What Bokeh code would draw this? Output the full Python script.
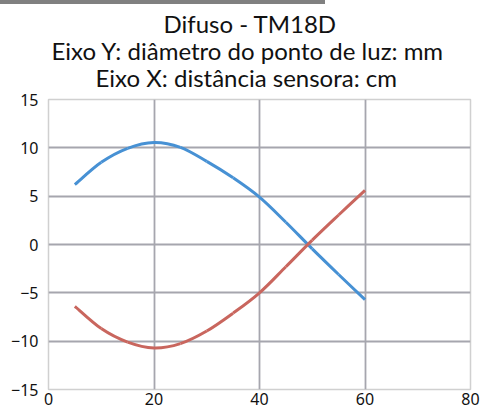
from bokeh.plotting import figure
from bokeh.models import FixedTicker, Grid, Title, ColumnDataSource, Div
from bokeh.layouts import column
from bokeh.embed import file_html
from bokeh.resources import INLINE

# Data
x_vals = [5, 10, 15, 20, 25, 30, 35, 40, 45, 50, 55, 60]
blue_vals = [6.2, 8.5, 9.95, 10.55, 10.05, 8.6, 6.9, 4.9, 2.3, -0.45, -3.1, -5.7]
red_vals = [-6.4, -8.7, -10.1, -10.7, -10.25, -8.95, -7.1, -5.0, -2.3, 0.45, 3.05, 5.6]
x_ticks = [0, 20, 40, 60, 80]
y_ticks = [-15, -10, -5, 0, 5, 10, 15]
title_lines = ["Difuso - TM18D",
               "Eixo Y: diâmetro do ponto de luz: mm",
               "Eixo X: distância sensora: cm"]


def smooth_segments(xs, ys):
    """Bezier segments through the data points (Excel-like smoothing)."""
    n = len(xs)
    out = dict(x0=[], y0=[], x1=[], y1=[], cx0=[], cy0=[], cx1=[], cy1=[])
    for i in range(n - 1):
        xm, ym = (xs[i - 1], ys[i - 1]) if i > 0 else (xs[i], ys[i])
        xp, yp = (xs[i + 2], ys[i + 2]) if i + 2 < n else (xs[i + 1], ys[i + 1])
        out["x0"].append(xs[i]); out["y0"].append(ys[i])
        out["x1"].append(xs[i + 1]); out["y1"].append(ys[i + 1])
        out["cx0"].append(xs[i] + (xs[i + 1] - xm) / 6)
        out["cy0"].append(ys[i] + (ys[i + 1] - ym) / 6)
        out["cx1"].append(xs[i + 1] - (xp - xs[i]) / 6)
        out["cy1"].append(ys[i + 1] - (yp - ys[i]) / 6)
    return out


W, H = 480, 404
p = figure(width=W, height=H, output_backend="svg", toolbar_location=None,
           x_range=(0, 80), y_range=(-15, 15),
           min_border_left=48, min_border_right=10, min_border_top=95,
           min_border_bottom=19, margin=0)
p.background_fill_color = "white"
p.border_fill_color = "white"
p.outline_line_color = "#D0D0D0"
p.outline_line_width = 1.5

# grids
p.xgrid.visible = False
p.ygrid.visible = False
p.add_layout(Grid(dimension=0, ticker=FixedTicker(ticks=x_ticks[1:]),
                  grid_line_color="#A6A6AE", grid_line_width=1.8))
p.add_layout(Grid(dimension=1, ticker=FixedTicker(ticks=y_ticks[1:-1]),
                  grid_line_color="#A6A6AE", grid_line_width=1.8))

for ax in (p.xaxis[0], p.yaxis[0]):
    ax.axis_line_color = None
    ax.major_tick_line_color = None
    ax.minor_tick_line_color = None
    ax.major_tick_out = 0
    ax.major_tick_in = 0
    ax.major_label_text_font = "Noto Sans"
    ax.major_label_text_font_size = "16px"
    ax.major_label_text_color = "#111111"

p.xaxis[0].ticker = FixedTicker(ticks=x_ticks)
p.yaxis[0].ticker = FixedTicker(ticks=y_ticks)
p.xaxis[0].major_label_standoff = 3
p.yaxis[0].major_label_standoff = 10

bsrc = ColumnDataSource(smooth_segments(x_vals, blue_vals))
rsrc = ColumnDataSource(smooth_segments(x_vals, red_vals))
p.bezier(x0="x0", y0="y0", x1="x1", y1="y1", cx0="cx0", cy0="cy0",
         cx1="cx1", cy1="cy1", source=bsrc, line_color="#4791D4", line_width=3)
p.bezier(x0="x0", y0="y0", x1="x1", y1="y1", cx0="cx0", cy0="cy0",
         cx1="cx1", cy1="cy1", source=rsrc, line_color="#C9665E", line_width=3)

# titles: added from the innermost (closest to frame) outward
offsets = [115, 3, 47]
standoffs = [9.8, -23, 14.6]
valigns = ["top", "bottom", "bottom"]
for txt, off, so, va in reversed(list(zip(title_lines, offsets, standoffs, valigns))):
    p.add_layout(Title(text=txt, align="left", offset=off, standoff=so,
                       vertical_align=va,
                       text_font="Lato", text_font_size="24px",
                       text_font_style="normal", text_color="#111111"), "above")

bar = Div(width=325, height=4, margin=0, styles={"background-color": "#808080"})
layout = column(bar, p, spacing=0)

open("out.html", "w").write(file_html(layout, INLINE))
